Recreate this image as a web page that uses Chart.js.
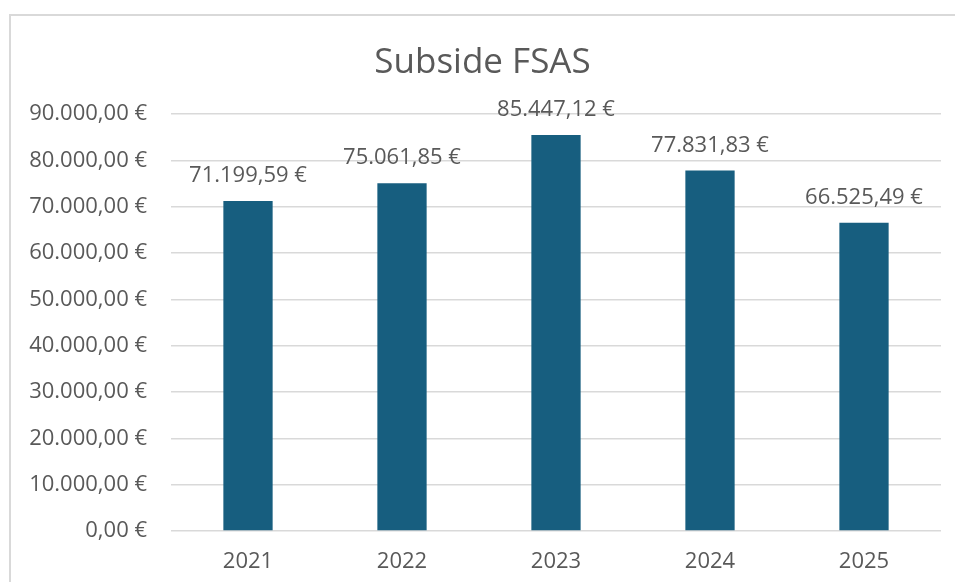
<!DOCTYPE html>
<html>
<head>
<meta charset="utf-8">
<script src="https://cdn.jsdelivr.net/npm/chart.js@4"></script>
<style>
  html, body { margin: 0; padding: 0; background: #fff; overflow: hidden; }
  #wrap { position: relative; width: 955px; height: 582px; }
  #frame { position: absolute; left: 9px; top: 14px; width: 960px; height: 600px;
           border: 2px solid #d9d9d9; box-sizing: border-box; pointer-events: none; }
  canvas { position: absolute; left: 0; top: 0; }
</style>
</head>
<body>
<div id="wrap">
  <canvas id="chart" width="955" height="582"></canvas>
  <div id="frame"></div>
</div>
<script>
// Datos
const years = ['2021', '2022', '2023', '2024', '2025'];
const amounts = [71199.59, 75061.85, 85447.12, 77831.83, 66525.49];
const yMin = 0, yMax = 90000, yStep = 10000;

const txt = '#595959';
const barColor = '#175e7f';

// 1234.5 -> "1.234,50 €"
function euro(v) {
    const [ent, dec] = Math.abs(v).toFixed(2).split('.');
    const miles = ent.replace(/\B(?=(\d{3})+(?!\d))/g, '.');
    return (v < 0 ? '-' : '') + miles + ',' + dec + ' €';
}

// etiquetas encima de las barras
const valueLabels = {
    id: 'valueLabels',
    afterDatasetsDraw(chart) {
        const ctx = chart.ctx;
        const meta = chart.getDatasetMeta(0);
        ctx.save();
        ctx.font = '22px "Open Sans"';
        ctx.fillStyle = txt;
        ctx.textAlign = 'center';
        ctx.textBaseline = 'middle';
        meta.data.forEach((bar, i) => {
            ctx.fillText(euro(chart.data.datasets[0].data[i]), bar.x, bar.y - 25);
        });
        ctx.restore();
    }
};

new Chart(document.getElementById('chart'), {
    type: 'bar',
    data: {
        labels: years,
        datasets: [{
            data: amounts,
            backgroundColor: barColor,
            barPercentage: 0.32,
            categoryPercentage: 1
        }]
    },
    options: {
        responsive: false,
        animation: false,
        // padding izq. para acercar el título al centro del marco
        layout: { padding: { left: 24, right: 14, top: 0, bottom: 0 } },
        plugins: {
            legend: { display: false },
            tooltip: { enabled: false },
            title: {
                display: true,
                text: 'Subside FSAS',
                color: txt,
                font: { family: 'Open Sans', size: 35, weight: 'normal' },
                padding: { top: 42, bottom: 30 }
            }
        },
        scales: {
            x: {
                afterFit(scale) { scale.height = 51; },
                grid: { display: false, drawTicks: false },
                border: { display: false },
                ticks: { color: txt, font: { family: 'Open Sans', size: 22 }, padding: 18 }
            },
            y: {
                min: yMin, max: yMax,
                afterFit(scale) { scale.width = 147; },
                grid: { color: '#d9d9d9', lineWidth: 1.5, drawTicks: false },
                border: { display: false },
                ticks: {
                    stepSize: yStep,
                    color: txt,
                    padding: 24,
                    font: { family: 'Open Sans', size: 22 },
                    callback: v => euro(v)
                }
            }
        }
    },
    plugins: [valueLabels]
});
</script>
</body>
</html>
